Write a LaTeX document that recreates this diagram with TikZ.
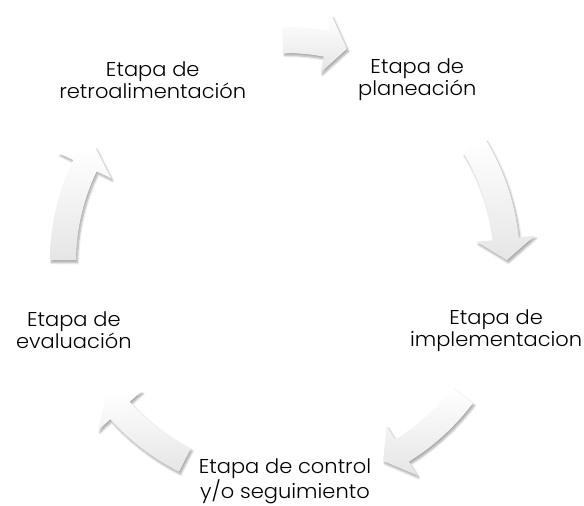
\documentclass[tikz,border=0pt]{standalone}
\usepackage{fontspec}
\setmainfont{Poppins Light}[FakeStretch=1.05]
\usetikzlibrary{shadows.blur}

\tikzset{
  stage/.style={align=center, font=\fontsize{20}{22}\selectfont},
  blockarrow/.style={top color=white, bottom color=black!10, draw=none,
    blur shadow={shadow xshift=1.5pt, shadow yshift=-2.5pt,
      shadow blur steps=6, shadow opacity=35}}
}

% curved block arrow on the cycle, from angle #1 to angle #2
\newcommand{\cyclearrow}[2]{%
  \path[blockarrow] (#1:209) arc[start angle=#1, end angle=#2+5.5, radius=209]
    -- (#2+5.5:193) -- (#2:222) -- (#2+5.5:251) -- (#2+5.5:235)
    arc[start angle=#2+5.5, end angle=#1, radius=235] -- cycle;}

\begin{document}
\begin{tikzpicture}[x=1pt,y=1pt]
  \useasboundingbox (-285,-244) rectangle (299,262);

  % arrows
  \foreach \a/\b in {90.5/73.8, 31.5/0.5, -36.9/-63.7, -116.8/-143.5, 179.5/148.8}
  { \cyclearrow{\a}{\b} }

  % stages
  \node[stage] (retro) at (126:225) {Etapa de\\retroalimentación};
  \node[stage] (plan)  at (54:225)  {Etapa de\\planeación};
  \node[stage] (impl)  at (-18:222) {Etapa de\\implementacion};
  \node[stage] (ctrl)  at (-90:219) {Etapa de control\\y/o seguimiento};
  \node[stage] (eval)  at (198:222) {Etapa de\\evaluación};
\end{tikzpicture}
\end{document}
